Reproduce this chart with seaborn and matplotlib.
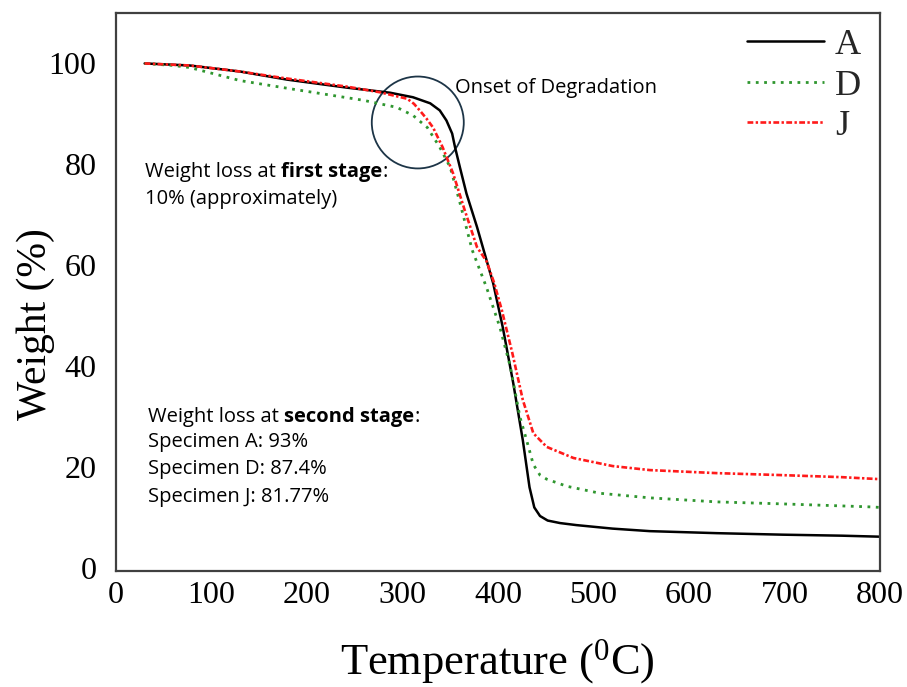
import seaborn as sns
import matplotlib.pyplot as plt
from matplotlib.patches import Ellipse

# TGA curves
temp_a = [30, 77, 130, 179, 242, 287, 311, 329, 339, 346, 352, 355, 360, 367, 378, 388, 395, 405, 416, 426, 433, 438, 444, 452, 465, 482, 520, 559, 629, 698, 760, 800]
weight_a = [100, 99.6, 98.4, 96.8, 95.2, 94.2, 93.3, 92.1, 90.7, 88.7, 86.1, 83.4, 79.5, 74.2, 67.6, 61.0, 56.4, 47.7, 36.6, 25.3, 16.0, 12.0, 10.3, 9.4, 8.9, 8.5, 7.8, 7.3, 6.9, 6.6, 6.4, 6.2]

temp_d = [30, 60, 77, 130, 182, 259, 294, 311, 326, 339, 350, 360, 373, 388, 402, 413, 423, 430, 437, 444, 451, 472, 507, 559, 629, 698, 791, 800]
weight_d = [100, 99.6, 99.2, 96.6, 95.0, 92.7, 91.3, 89.7, 87.3, 83.4, 79.4, 72.5, 63.0, 55.6, 47.7, 39.8, 29.9, 25.3, 20.5, 18.4, 17.6, 16.2, 14.8, 13.9, 13.1, 12.7, 12.1, 12.0]

temp_j = [30, 77, 130, 172, 242, 276, 305, 312, 318, 325, 332, 342, 353, 365, 378, 388, 396, 404, 415, 426, 437, 451, 479, 520, 559, 629, 698, 760, 800]
weight_j = [100, 99.6, 98.4, 97.2, 95.4, 94.3, 93.0, 92.0, 90.7, 89.1, 87.3, 83.4, 78.2, 71.0, 63.6, 60.8, 56.5, 51.1, 42.6, 33.3, 26.7, 24.0, 21.8, 20.2, 19.4, 18.8, 18.4, 18.0, 17.6]

labels = ['A', 'D', 'J']
x_ticks = [0, 100, 200, 300, 400, 500, 600, 700, 800]
y_ticks = [0, 20, 40, 60, 80, 100]

sns.set_theme(style='white')
plt.rcParams['font.family'] = ['Liberation Serif']

W, H = 907, 687
fig = plt.figure(figsize=(W / 100, H / 100), dpi=100)
ax = fig.add_axes([116 / W, 1 - 571 / H, (880 - 116) / W, (571 - 13) / H])

sns.lineplot(x=temp_a, y=weight_a, ax=ax, color='black', lw=1.8, sort=False, label=labels[0])
sns.lineplot(x=temp_d, y=weight_d, ax=ax, color='#2f962f', lw=2.0, sort=False,
             linestyle=(0, (1, 2)), label=labels[1])
sns.lineplot(x=temp_j, y=weight_j, ax=ax, color='#ff1a1a', lw=1.9, sort=False,
             linestyle=(0, (2.2, 0.9, 0.9, 0.9)), label=labels[2])

ax.set_xlim(0, 800)
ax.set_ylim(-0.6, 110)
ax.set_xticks(x_ticks)
ax.set_yticks(y_ticks)
ax.tick_params(axis='both', length=0, labelsize=23, labelcolor='black')
ax.tick_params(axis='y', pad=14)
ax.tick_params(axis='x', pad=7)
for s in ax.spines.values():
    s.set_color('#404040')
    s.set_linewidth(1.6)

ax.set_xlabel('Temperature ($\\mathregular{^0}$C)', fontsize=32, color='black')
ax.set_ylabel('Weight (%)', fontsize=30, color='black')
ax.xaxis.set_label_coords(0.499, -0.118)
ax.yaxis.set_label_coords(-0.08, 0.443)

ax.legend(loc='upper right', bbox_to_anchor=(1.018, 1.03), frameon=False,
          fontsize=26, handlelength=2.15, labelspacing=0.2, handletextpad=0.3)

# onset circle (radius ~46 px)
ax.add_patch(Ellipse((316, 88.3), 2 * 46 / 0.955, 2 * 46 / 5.05, fill=False,
                     edgecolor='#1d3547', lw=1.3))

sans = ['Open Sans', 'DejaVu Sans']
fs = 14.5


def ftext(px, py, s, weight='normal'):
    return fig.text(px / W, 1 - py / H, s, fontsize=fs, family=sans,
                    fontweight=weight, va='center', ha='left', color='black')


def chain(prev, s, weight='normal'):
    return ax.annotate(s, xy=(1, 0), xycoords=prev, va='bottom', ha='left',
                       fontsize=fs, family=sans, fontweight=weight, color='black')


ftext(455, 88, 'Onset of Degradation')

t = ftext(145, 172, 'Weight loss at ')
t = chain(t, 'first stage', 'bold')
chain(t, ':')
ftext(145, 199, '10% (approximately)')

t = ftext(148, 417, 'Weight loss at ')
t = chain(t, 'second stage', 'bold')
chain(t, ':')
ftext(148, 442, 'Specimen A: 93%')
ftext(148, 469, 'Specimen D: 87.4%')
ftext(148, 497, 'Specimen J: 81.77%')

plt.savefig('out.png', dpi=100)
plt.close()
